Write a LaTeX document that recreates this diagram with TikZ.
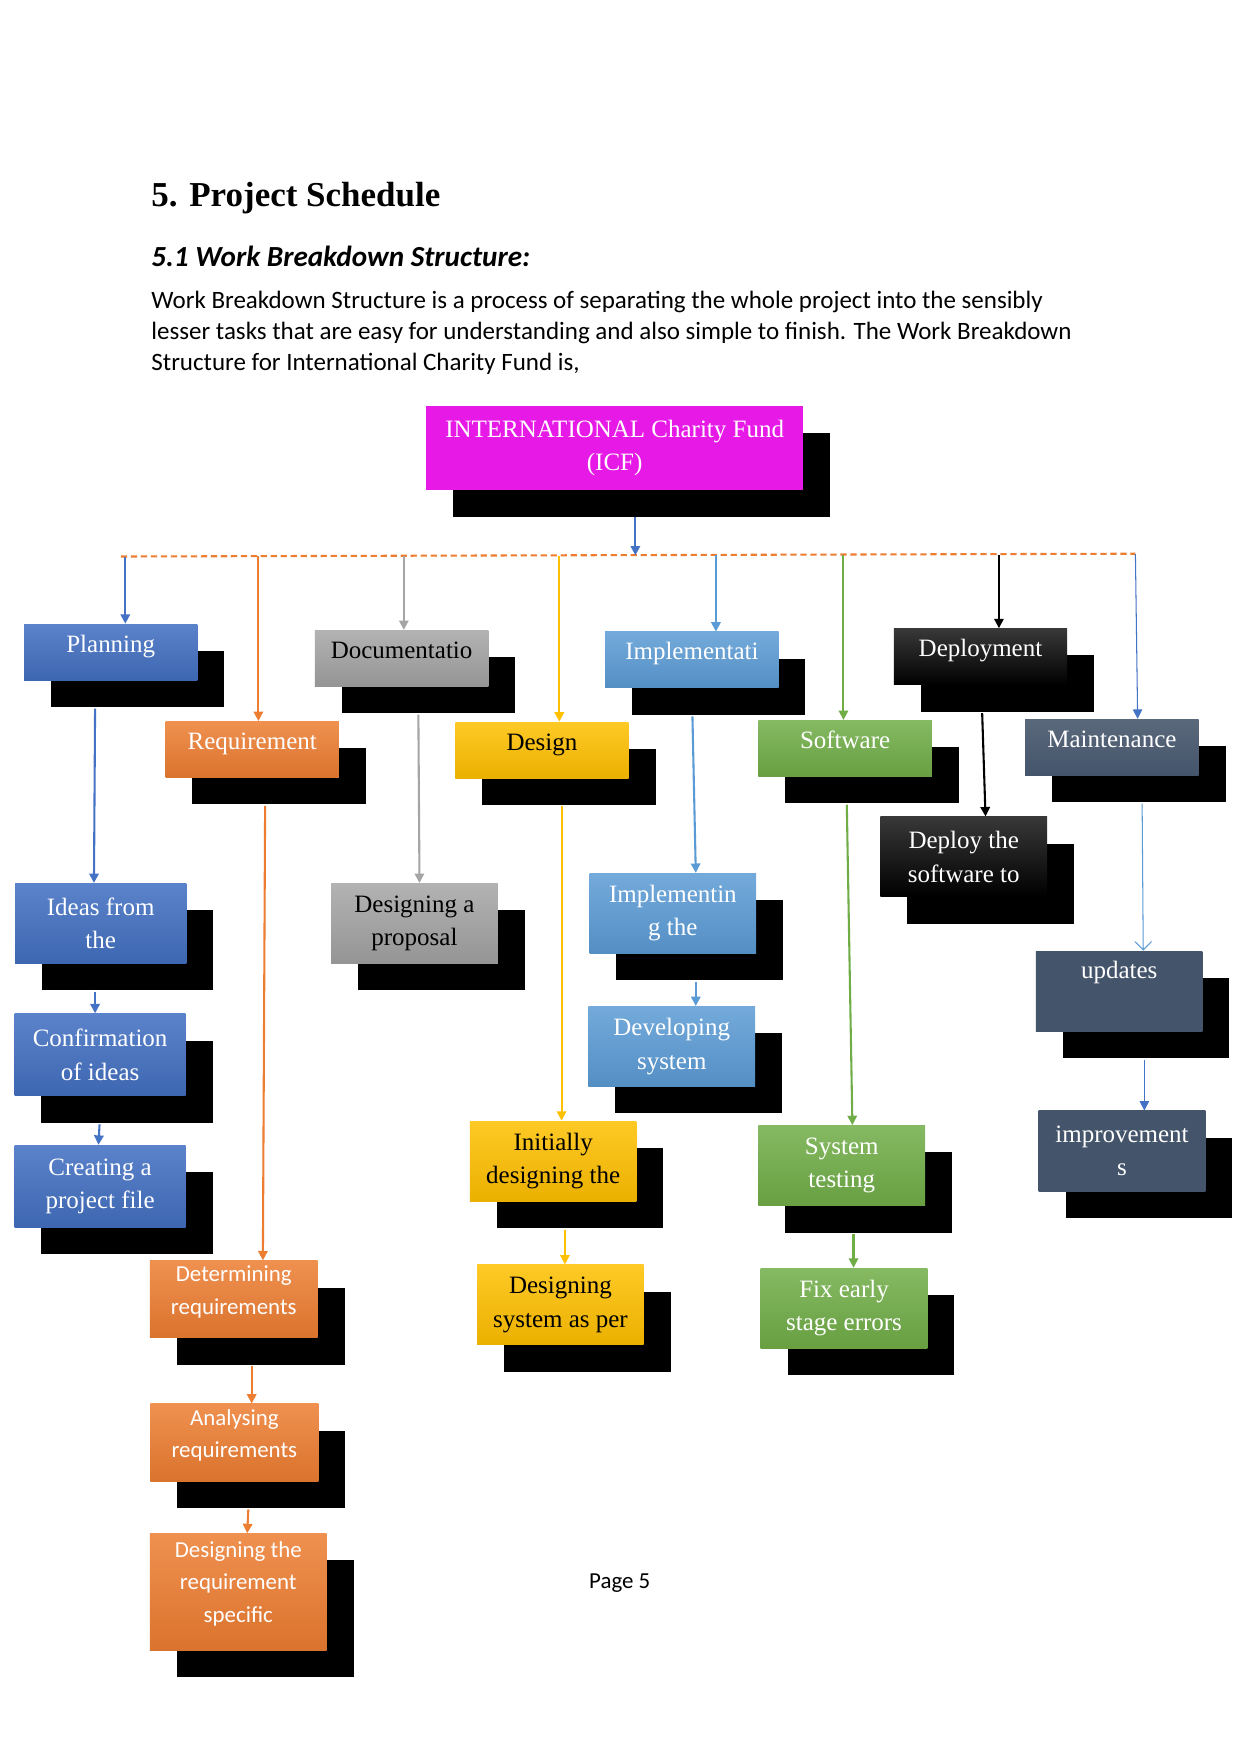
\documentclass[tikz,border=0pt]{standalone}
\usepackage{fontspec}
\setmainfont{Liberation Serif}
\newfontfamily\calibrifont{Carlito}
\usepackage{tikz}
\usetikzlibrary{shapes,arrows.meta,positioning,calc,shadows}
\usepackage{xcolor}
\definecolor{icfmagenta}{RGB}{230,25,230}
\definecolor{planblue}{RGB}{68,114,196}
\definecolor{reqorange}{RGB}{237,125,49}
\definecolor{docgray}{RGB}{165,165,165}
\definecolor{designgold}{RGB}{255,192,0}
\definecolor{implblue}{RGB}{91,155,213}
\definecolor{softgreen}{RGB}{112,173,71}
\definecolor{maintslate}{RGB}{68,84,106}

\begin{document}
\begin{tikzpicture}[x=0.5372pt,y=-0.5372pt,
    wbs/.style={rectangle, inner sep=2pt, align=center,
      font=\fontsize{12}{16}\selectfont,
      drop shadow={shadow xshift=12.9pt, shadow yshift=-12.9pt, opacity=1, fill=black}},
    mainbox/.style={wbs, minimum width=83.3pt, minimum height=26.9pt,
      text height=8pt, text depth=8pt},
    subbox/.style={wbs, minimum width=80pt, minimum height=38.5pt},
    calbox/.style={subbox, font=\calibrifont\fontsize{11}{15.6}\selectfont},
    fplan/.style={top color=planblue!88!white, bottom color=planblue!90!black, text=white},
    freq/.style={top color=reqorange!85!white, bottom color=reqorange!92!black, text=white},
    fdoc/.style={top color=docgray!85!white, bottom color=docgray!90!black, text=black},
    fdes/.style={top color=designgold!85!white, bottom color=designgold!92!black, text=black},
    fimpl/.style={top color=implblue!85!white, bottom color=implblue!92!black, text=white},
    fsoft/.style={top color=softgreen!85!white, bottom color=softgreen!92!black, text=white},
    fdepl/.style={top color=black!78, bottom color=black, text=white},
    fmaint/.style={top color=maintslate!88!white, bottom color=maintslate, text=white},
    link/.style={line width=1pt, -{Triangle[length=4.5pt,width=4.5pt]}}]

  \fill[white] (0,0) rectangle (1109,1568);
  \useasboundingbox (0,0) rectangle (1109,1568);

  % heading and intro
  \node[anchor=base west, inner sep=0, font=\fontsize{16.8}{20}\selectfont\bfseries] (title) at (135,185) {5. Project Schedule};
  \node[anchor=base west, inner sep=0, font=\calibrifont\fontsize{14}{17}\selectfont\bfseries\itshape] (subtitle) at (135,238) {5.1 Work Breakdown Structure:};
  \node[anchor=north west, inner sep=0, align=left, font=\calibrifont\fontsize{12}{14.8}\selectfont] (intro) at (135,260)
    {Work Breakdown Structure is a process of separating the whole project into the sensibly\\
     lesser tasks that are easy for understanding and also simple to finish. The Work Breakdown\\
     Structure for International Charity Fund is,};

  % root
  \node[wbs, fill=icfmagenta, text=white, minimum width=181pt, minimum height=40.3pt,
        font=\fontsize{12}{15.6}\selectfont] (icf) at (549.5,400.5) {INTERNATIONAL Charity Fund\\(ICF)};

  % first level
  \node[mainbox, fplan]  (plan)  at (99,583)    {Planning};
  \node[mainbox, freq]   (req)   at (225.5,670) {Requirement};
  \node[mainbox, fdoc]   (doc)   at (359,588.5) {Documentatio};
  \node[mainbox, fdes]   (des)   at (484.5,670.5) {Design};
  \node[mainbox, fimpl]  (impl)  at (618.5,590) {Implementati};
  \node[mainbox, fsoft]  (soft)  at (755.5,669) {Software};
  \node[mainbox, fdepl]  (depl)  at (876.5,587) {Deployment};
  \node[mainbox, fmaint] (maint) at (994,668)   {Maintenance};

  % second level
  \node[subbox, fplan, minimum width=82.2pt] (ideas) at (90,825.5)   {Ideas from\\the};
  \node[subbox, fplan, minimum width=82.2pt, minimum height=39.5pt] (conf)  at (89.5,943)  {Confirmation\\of ideas};
  \node[subbox, fplan, minimum width=82.2pt, minimum height=39.5pt] (creat) at (89.5,1060.5) {Creating a\\project file};
  \node[calbox, freq, minimum width=80.6pt, minimum height=37pt] (det) at (209,1161.5) {Determining\\requirements\\[-7pt]\mbox{}};
  \node[calbox, freq, minimum width=80.6pt, minimum height=37pt] (ana) at (209.5,1289.5) {Analysing\\requirements\\[-7pt]\mbox{}};
  \node[calbox, freq, minimum width=84.9pt, minimum height=55.9pt] (dreq) at (213,1423) {Designing the\\requirement\\specific\\[-6pt]\mbox{}};
  \node[subbox, fdoc]   (prop)    at (370.5,825.5) {Designing a\\proposal};
  \node[subbox, fdes]   (init)    at (494.5,1038)  {Initially\\designing the};
  \node[subbox, fdes]   (dsys)    at (501,1166.5)  {Designing\\system as per};
  \node[subbox, fimpl]  (implg)   at (601.5,816.5) {Implementin\\g the};
  \node[subbox, fimpl]  (dev)     at (600.5,935.5) {Developing\\system};
  \node[subbox, fsoft]  (systest) at (752.5,1042)  {System\\testing};
  \node[subbox, fsoft]  (fix)     at (754.5,1169.5) {Fix early\\stage errors};
  \node[subbox, fdepl]  (deploy)  at (861.5,766)   {Deploy the\\software to};
  \node[subbox, fmaint, top color=maintslate] (upd)  at (1000.5,886) {updates\\\strut};
  \node[subbox, fmaint, top color=maintslate] (impr) at (1003,1029)  {improvement\\s};

  % dashed bus and taps
  \coordinate (busL) at (108,497.5);
  \coordinate (busR) at (1015,495);
  \draw[reqorange, line width=1pt, dash pattern=on 3pt off 1.8pt] (busL) -- (busR);
  \coordinate (tbus)   at (568,496.5);
  \coordinate (tplan)  at (112,497.5);
  \coordinate (treq)   at (231,497.3);
  \coordinate (tdoc)   at (361,497);
  \coordinate (tdes)   at (500,496.7);
  \coordinate (timpl)  at (640,496.3);
  \coordinate (tsoft)  at (754,496);
  \coordinate (tdepl)  at (893,495.7);
  \coordinate (tmaint) at (1015,495.3);

  \draw[link, planblue] ($(tbus |- icf.south)+(0,24)$) -- (tbus);
  \draw[link, planblue]   (tplan) -- (tplan |- plan.north);
  \draw[link, reqorange]  (treq) -- (treq |- req.north);
  \draw[link, docgray]    (tdoc) -- (tdoc |- doc.north);
  \draw[link, designgold] (tdes) -- (tdes |- des.north);
  \draw[link, implblue]   (timpl) -- (timpl |- impl.north);
  \draw[link, softgreen]  (tsoft) -- (tsoft |- soft.north);
  \draw[link, black]      (tdepl) -- (tdepl |- depl.north);
  \draw[link, planblue, line width=0.5pt] (tmaint) -- ($(tmaint |- maint.north)+(2,0)$);

  % branches
  \draw[link, planblue] ($(plan.south)+(-14,25)$) -- ($(ideas.north)+(-6,0)$);
  \draw[link, planblue] ($(ideas.south)+(-5,25)$) -- ($(conf.north)+(-4.5,0)$);
  \draw[link, planblue] ($(conf.south)+(-0.5,25)$) -- ($(creat.north)+(-1.5,0)$);
  \draw[link, reqorange] ($(req.south)+(11.5,25)$) -- ($(det.north)+(26,0)$);
  \draw[link, reqorange] ($(det.south)+(16,25)$) -- ($(ana.north)+(15.5,0)$);
  \draw[link, reqorange] ($(ana.south)+(12.5,25)$) -- ($(dreq.north)+(8,0)$);
  \draw[link, docgray] ($(doc.south)+(15,25)$) -- ($(prop.north)+(4.5,0)$);
  \draw[link, designgold] ($(des.south)+(17.5,25)$) -- ($(init.north)+(7.5,0)$);
  \draw[link, designgold] ($(init.south)+(10.5,25)$) -- ($(dsys.north)+(4,0)$);
  \draw[link, implblue] ($(impl.south)+(0.5,25)$) -- ($(implg.north)+(20.5,0)$);
  \draw[link, implblue] ($(implg.south)+(20.5,25)$) -- ($(dev.north)+(21.5,0)$);
  \draw[link, softgreen] ($(soft.south)+(1.5,25)$) -- ($(systest.north)+(9.5,0)$);
  \draw[link, softgreen] ($(systest.south)+(10.5,25)$) -- ($(fix.north)+(8.5,0)$);
  \draw[link, black] ($(depl.south)+(1.5,25)$) -- ($(deploy.north)+(19.5,0)$);
  \draw[implblue, line width=0.5pt, -{Straight Barb[length=4pt,width=8pt]}] ($(maint.south)+(27,25)$) -- ($(upd.north)+(21.5,0)$);
  \draw[link, planblue, line width=0.6pt] ($(upd.south)+(22.5,25)$) -- ($(impr.north)+(20,0)$);

  % footer
  \node[font=\calibrifont\fontsize{11}{13}\selectfont] (pageno) at (554,1415) {Page 5};
\end{tikzpicture}
\end{document}
